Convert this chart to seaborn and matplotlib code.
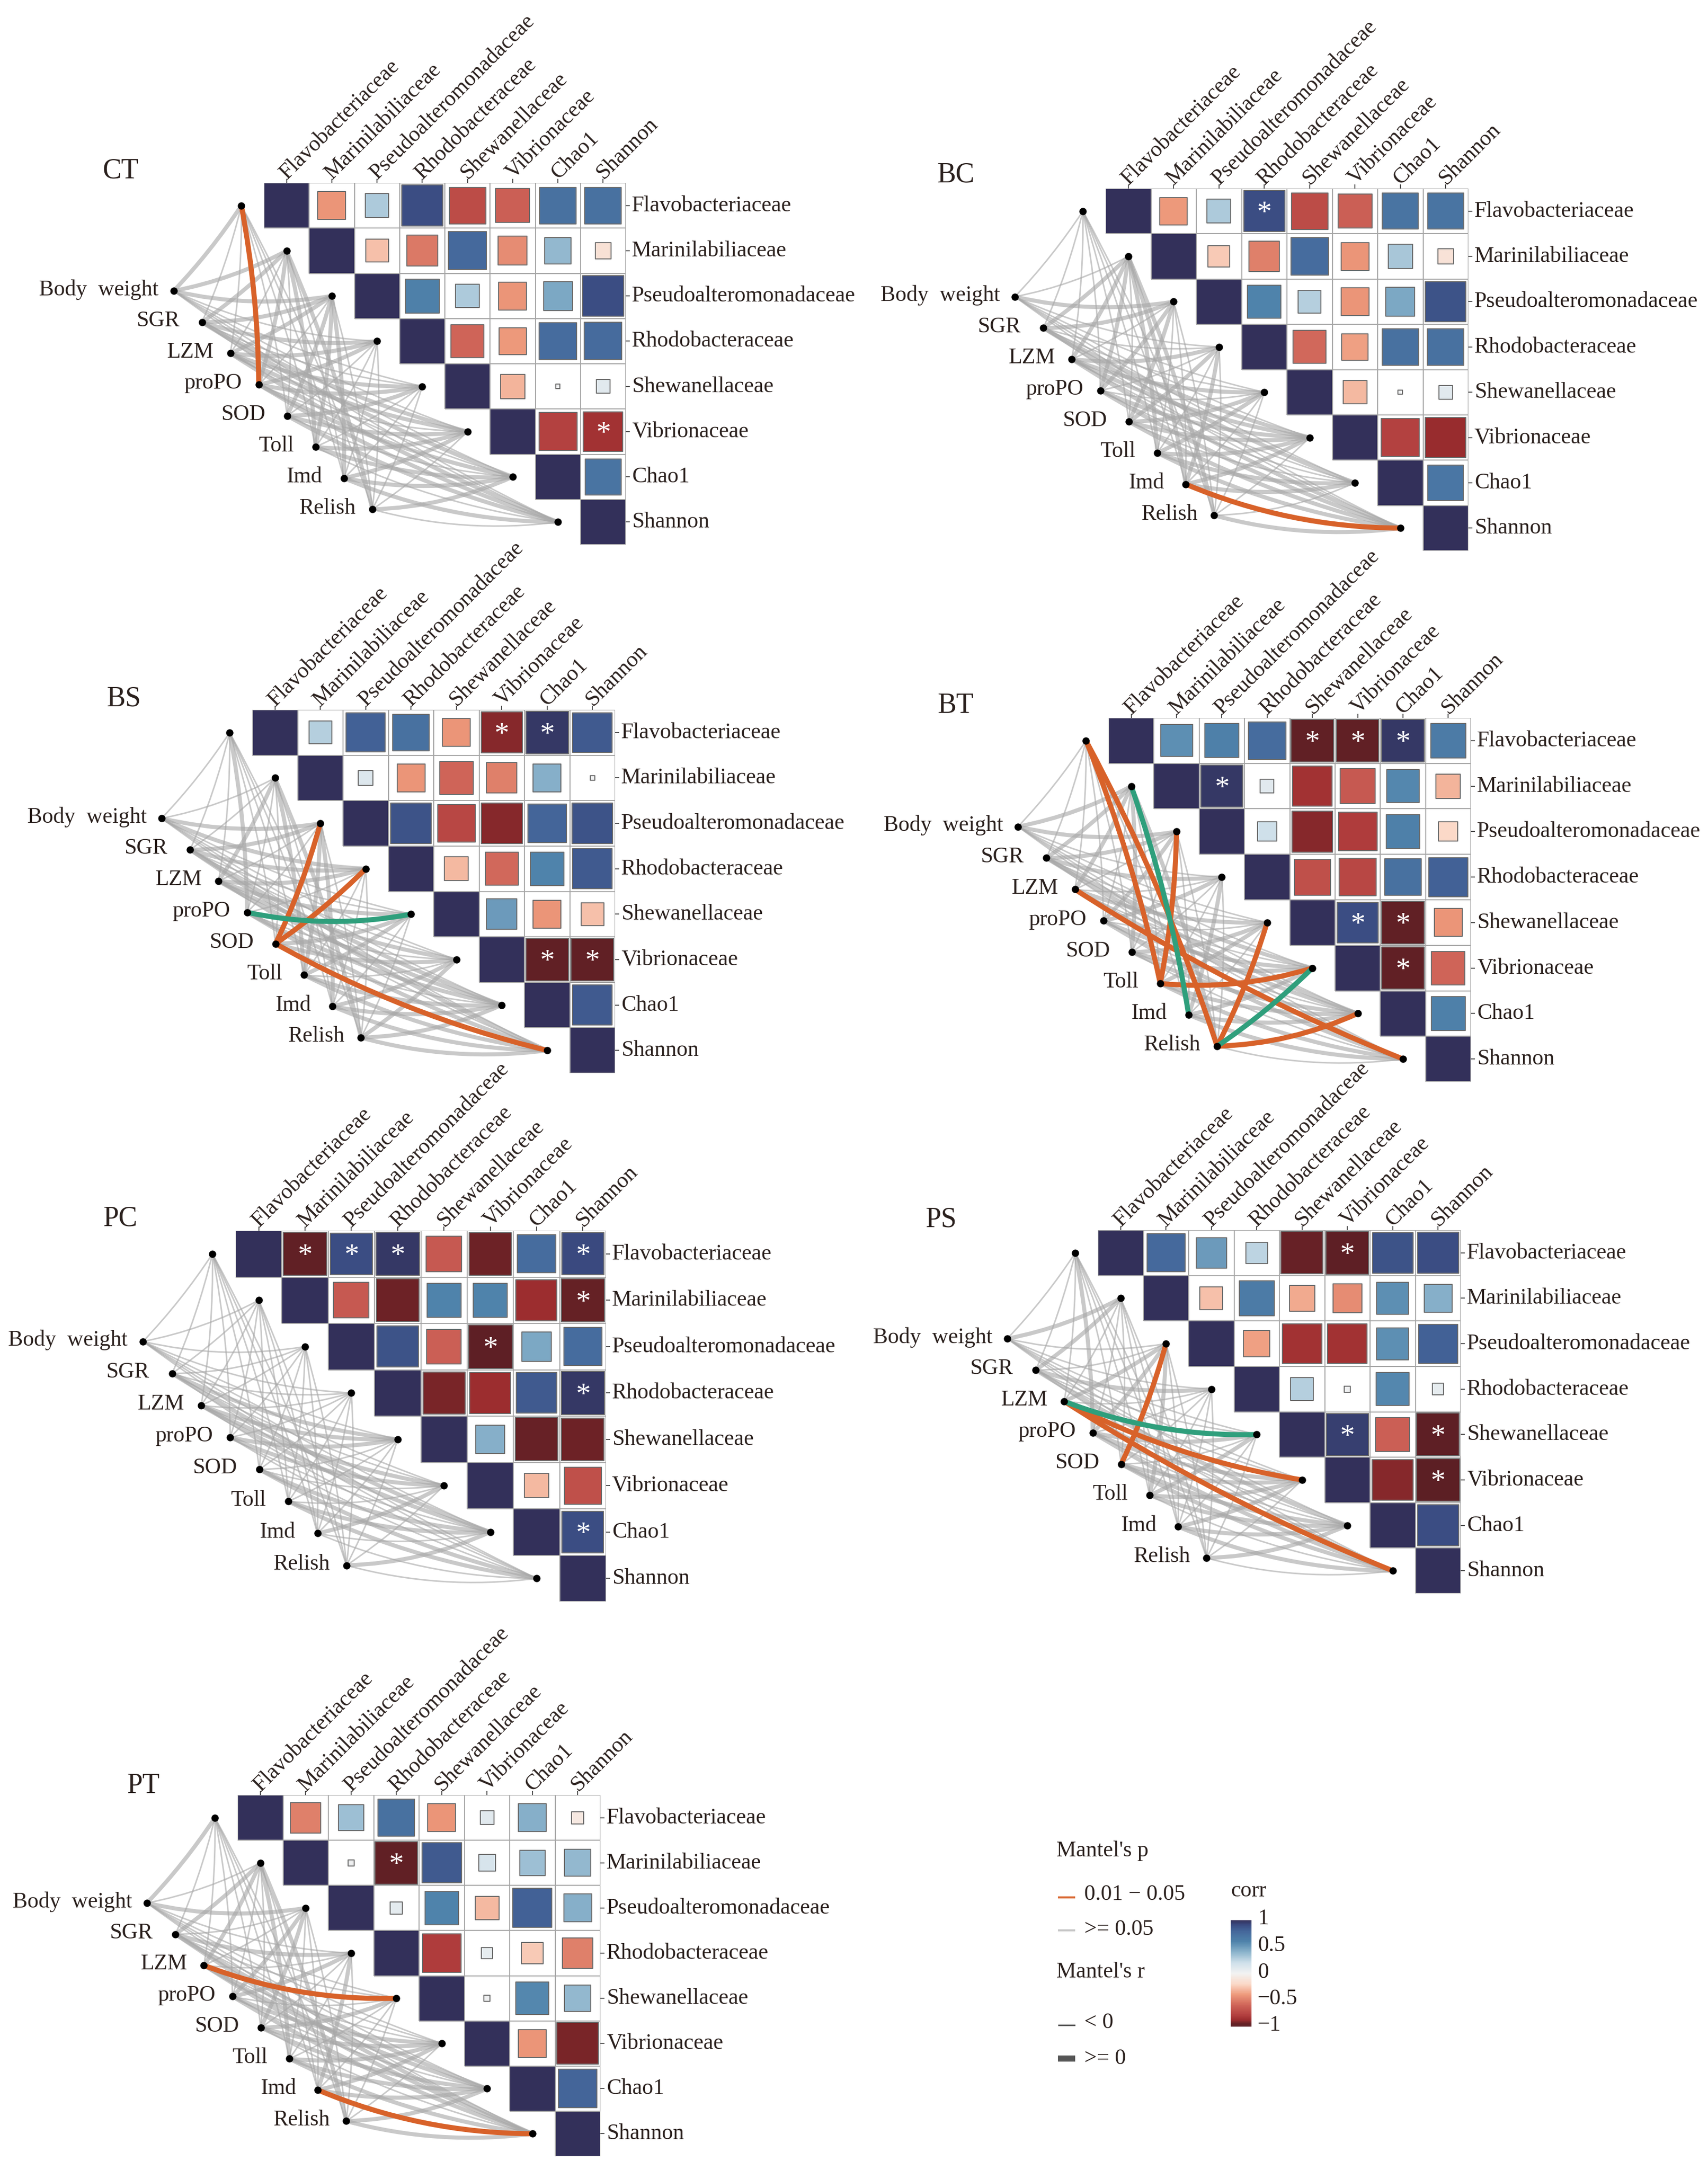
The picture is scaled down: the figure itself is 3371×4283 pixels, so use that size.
import matplotlib
matplotlib.use("Agg")
import matplotlib.pyplot as plt
import seaborn as sns
import numpy as np
from matplotlib.colors import LinearSegmentedColormap, ListedColormap, Normalize
from matplotlib.cm import ScalarMappable
from matplotlib.lines import Line2D
from matplotlib.patches import PathPatch
from matplotlib.path import Path
from matplotlib.transforms import ScaledTranslation

taxa = ["Flavobacteriaceae", "Marinilabiliaceae", "Pseudoalteromonadaceae", "Rhodobacteraceae",
        "Shewanellaceae", "Vibrionaceae", "Chao1", "Shannon"]
env_labels = ["Body  weight", "SGR", "LZM", "proPO", "SOD", "Toll", "Imd", "Relish"]
F, M, Ps, R, Sh, V, C, Sn = range(8)
BW, SGR, LZM, PRO, SOD, TOLL, IMD, REL = range(8)

# upper triangle of the correlation matrix, read row by row
ct_corr = [[-.42, .30, .90, -.72, -.62, .72, .72],
           [-.28, -.52, .78, -.45, .38, -.14],
           [.62, .30, -.42, .45, .90],
           [-.60, -.40, .75, .76],
           [-.32, .01, .10],
           [-.78, -.85],
           [.70]]
bc_corr = [[-.40, .30, .90, -.72, -.62, .70, .70],
           [-.25, -.50, .75, -.42, .32, -.13],
           [.60, .28, -.42, .45, .88],
           [-.58, -.38, .72, .72],
           [-.30, .01, .10],
           [-.78, -.88],
           [.68]]
bs_corr = [[.28, .82, .72, -.42, -.90, .97, .85],
           [.12, -.42, -.60, -.50, .42, .01],
           [.88, -.75, -.90, .80, .88],
           [-.30, -.58, .60, .85],
           [.50, -.42, -.28],
           [-.97, -.97],
           [.85]]
bt_corr = [[.55, .62, .75, -.97, -.97, .97, .65],
           [.97, .10, -.85, -.65, .58, -.32],
           [.20, -.90, -.80, .62, -.20],
           [-.70, -.75, .72, .82],
           [.90, -.97, -.42],
           [-.97, -.60],
           [.62]]
pc_corr = [[-.97, .90, .97, -.65, -.93, .75, .92],
           [-.65, -.93, .60, .60, -.87, -.96],
           [.88, -.62, -.98, .45, .75],
           [-.92, -.87, .85, .97],
           [.42, -.95, -.93],
           [-.30, -.70],
           [.90]]
ps_corr = [[.78, .50, .25, -.95, -.98, .88, .90],
           [-.28, .65, -.35, -.45, .55, .42],
           [-.38, -.85, -.85, .55, .82],
           [.28, .02, .58, .07],
           [.95, -.62, -.98],
           [-.90, -.99],
           [.90]]
pt_corr = [[-.50, .35, .72, -.42, .10, .42, -.08],
           [.02, -.97, .85, .15, .35, .38],
           [.08, .60, -.30, .82, .42],
           [-.80, .07, -.25, -.50],
           [.02, .58, .38],
           [-.42, -.92],
           [.80]]

# significant cells (row, column)
ct_stars = [(V, Sn)]
bc_stars = [(F, R)]
bs_stars = [(F, V), (F, C), (V, C), (V, Sn)]
bt_stars = [(F, Sh), (F, V), (F, C), (M, Ps), (Sh, V), (Sh, C), (V, C)]
pc_stars = [(F, M), (F, Ps), (F, R), (F, Sn), (M, Sn), (Ps, V), (R, Sn), (C, Sn)]
ps_stars = [(F, V), (Sh, V), (Sh, Sn), (V, Sn)]
pt_stars = [(M, R)]

# Mantel's r >= 0 (thick line), one string per env variable, one digit per taxon
ct_thick = ["11100000", "01110110", "00111101", "01011011", "00101101", "01100110", "00100111", "01000010"]
bc_thick = ["00100000", "01100110", "01011101", "01100101", "00111101", "01001111", "01010110", "01000001"]
bs_thick = ["00110000", "00110011", "01011110", "10001011", "00101101", "01101011", "00100111", "01000111"]
bt_thick = ["01100000", "01110110", "01001011", "00110101", "01001110", "00101111", "00010111", "01000010"]
pc_thick = ["00000000", "00001010", "00001110", "00001100", "00000011", "00000011", "00000100", "00000010"]
ps_thick = ["01000000", "01010010", "00101100", "10101101", "00000111", "00101110", "00000111", "00000010"]
pt_thick = ["10100000", "01010011", "01001011", "00110101", "00101110", "01000111", "00010110", "01000011"]

# links with Mantel's p below 0.05 (env, taxon)
ct_orange = [(PRO, F)]
bc_orange = [(IMD, Sn)]
bs_orange = [(SOD, Ps), (SOD, R), (SOD, Sn)]
bt_orange = [(LZM, Sn), (TOLL, F), (REL, F), (TOLL, Ps), (TOLL, V), (REL, Sh), (REL, C)]
pc_orange = []
ps_orange = [(LZM, V), (LZM, Sn), (SOD, Ps)]
pt_orange = [(LZM, Sh), (IMD, Sn)]
ct_green = []
bc_green = []
bs_green = [(PRO, Sh)]
bt_green = [(IMD, M), (REL, V)]
pc_green = []
ps_green = [(LZM, Sh)]
pt_green = []

# name, heatmap box in pixels (left, top, right, bottom), title centre in pixels
panels = [
    ("CT", (521, 361, 1235, 1075), (238, 338), ct_corr, ct_stars, ct_thick, ct_orange, ct_green),
    ("BC", (2182, 372, 2898, 1087), (1886, 346), bc_corr, bc_stars, bc_thick, bc_orange, bc_green),
    ("BS", (498, 1401, 1214, 2118), (244, 1379), bs_corr, bs_stars, bs_thick, bs_orange, bs_green),
    ("BT", (2188, 1417, 2903, 2135), (1886, 1393), bt_corr, bt_stars, bt_thick, bt_orange, bt_green),
    ("PC", (465, 2429, 1196, 3161), (237, 2405), pc_corr, pc_stars, pc_thick, pc_orange, pc_green),
    ("PS", (2167, 2428, 2883, 3145), (1857, 2408), ps_corr, ps_stars, ps_thick, ps_orange, ps_green),
    ("PT", (469, 3543, 1185, 4256), (283, 3525), pt_corr, pt_stars, pt_thick, pt_orange, pt_green),
]

W, H = 3371, 4283
DPI = 100
TXT = "#2a201d"
GREY = "#a8a8a8"
ORANGE = "#d8622a"
GREEN = "#2f9f7c"
NAVY = "#33305a"
FS = 31.5

sns.set_theme(style="white")
plt.rcParams["font.family"] = ["Liberation Serif", "DejaVu Serif"]

corr_cmap = LinearSegmentedColormap.from_list(
    "corr", [(0, "#5a1e24"), (.03, "#6b2226"), (.06, "#9a2c2e"), (.1, "#b03d3d"), (.2, "#cf6458"),
             (.3, "#ee9a7c"), (.4, "#fbd9c8"), (.5, "#f2f2f2"), (.6, "#cfe0ea"), (.7, "#8cb4cc"),
             (.8, "#4f83ab"), (.9, "#44669a"), (.96, "#3a4a80"), (1, NAVY)])
norm = Normalize(-1, 1)


def px(v):
    return v * 72 / DPI


def full_matrix(upper):
    mat = np.zeros((8, 8))
    for i, row in enumerate(upper):
        mat[i, i + 1:] = row
    return mat


def curve(ax, p0, p1, color, lw, alpha=1.0):
    (x0, y0), (x1, y1) = p0, p1
    # flat links bend more than steep ones
    angle = np.degrees(np.arctan2(abs(y1 - y0), abs(x1 - x0)))
    rad = .045 + .055 * np.clip((28 - angle) / 15, 0, 1)
    ctrl = ((x0 + x1) / 2 - rad * (y1 - y0), (y0 + y1) / 2 + rad * (x1 - x0))
    path = Path([p0, ctrl, p1], [Path.MOVETO, Path.CURVE3, Path.CURVE3])
    ax.add_patch(PathPatch(path, fc="none", ec=color, lw=px(lw), alpha=alpha, clip_on=False,
                           capstyle="round", zorder=3))


fig = plt.figure(figsize=(W / DPI, H / DPI), dpi=DPI)
overlay = fig.add_axes([0, 0, 1, 1], zorder=0)
overlay.set_xlim(0, W)
overlay.set_ylim(H, 0)
overlay.axis("off")

for name, box, title_xy, corr, stars, thick, orange, green in panels:
    left, top, right, bottom = box
    ax = fig.add_axes([left / W, 1 - bottom / H, (right - left) / W, (bottom - top) / H], zorder=1)
    ax.patch.set_visible(False)
    cell = (right - left) / 8

    mat = full_matrix(corr)
    mask = np.tril(np.ones((8, 8), dtype=bool), -1)
    sns.heatmap(np.eye(8), mask=mask, cmap=ListedColormap(["white", NAVY]), vmin=0, vmax=1, cbar=False,
                xticklabels=taxa, yticklabels=taxa, ax=ax)
    # grid only over the upper triangle
    for i in range(9):
        ax.hlines(i, max(i - 1, 0), 8, color="#a6a6a6", lw=px(2), zorder=1.5)
        ax.vlines(i, 0, min(i + 1, 8), color="#a6a6a6", lw=px(2), zorder=1.5)

    rows, cols = np.triu_indices(8, 1)
    vals = mat[rows, cols]
    # square area follows |r|
    ax.scatter(cols + .5, rows + .5, c=vals, cmap=corr_cmap, norm=norm, marker="s",
               s=np.abs(vals) * (px(cell) * .95) ** 2, edgecolors="#6e6e6e", linewidths=px(2), zorder=2)
    for r, c in stars:
        ax.text(c + .5, r + .56, "*", color="white", fontsize=42, ha="center", va="center", zorder=4)

    ax.xaxis.tick_top()
    ax.yaxis.tick_right()
    ax.tick_params(axis="both", length=px(8), width=px(2), color="#555555", pad=px(4), labelsize=FS, labelcolor=TXT)
    ax.tick_params(axis="x", pad=px(6))
    shift = ScaledTranslation(-7 / DPI, 0, fig.dpi_scale_trans)
    for lab in ax.get_xticklabels():
        lab.set(rotation=45, ha="left", va="center", rotation_mode="anchor")
        lab.set_transform(lab.get_transform() + shift)
    for lab in ax.get_yticklabels():
        lab.set(rotation=0, va="center")

    # network: env nodes on a diagonal, taxon nodes one cell left of the diagonal
    env_xy = [(-2.0 + .628 * i, 2.39 + .69 * i) for i in range(8)]
    tax_xy = [(i - .5, i + .5) for i in range(8)]
    special = set(orange) | set(green)
    for e in range(8):
        for t in range(8):
            if (e, t) not in special:
                curve(ax, env_xy[e], tax_xy[t], GREY, 8 if thick[e][t] == "1" else 3, alpha=.62)
    for e, t in orange:
        curve(ax, env_xy[e], tax_xy[t], ORANGE, 10)
    for e, t in green:
        curve(ax, env_xy[e], tax_xy[t], GREEN, 10)
    nodes = np.array(env_xy + tax_xy)
    ax.scatter(nodes[:, 0], nodes[:, 1], s=px(13) ** 2, color="black", clip_on=False, zorder=5)
    pads = [.33, .5, .36, .37, .48, .48, .48, .36]
    for i, (x, y) in enumerate(env_xy):
        ax.text(x - pads[i], y - .03, env_labels[i], fontsize=FS, color=TXT, ha="right", va="center")

    overlay.text(title_xy[0], title_xy[1], name, fontsize=40, color=TXT, ha="center", va="center")

# legends
overlay.text(2085, 3653, "Mantel's p", fontsize=FS, color=TXT, va="center")
overlay.text(2140, 3739, "0.01 \u2212 0.05", fontsize=FS, color=TXT, va="center")
overlay.text(2140, 3808, ">= 0.05", fontsize=FS, color=TXT, va="center")
overlay.text(2085, 3892, "Mantel's r", fontsize=FS, color=TXT, va="center")
overlay.text(2140, 3992, "< 0", fontsize=FS, color=TXT, va="center")
overlay.text(2140, 4063, ">= 0", fontsize=FS, color=TXT, va="center")
overlay.text(2429, 3732, "corr", fontsize=FS, color=TXT, va="center")
for y, col, lw in [(3745, ORANGE, 4), (3810, "#c6c6c6", 4), (3997, "#555555", 3), (4063, "#555555", 12)]:
    overlay.add_line(Line2D([2088, 2122], [y, y], color=col, lw=px(lw), solid_capstyle="butt"))

cax = fig.add_axes([2429 / W, 1 - 4000 / H, 41 / W, 210 / H], zorder=1)
cb = fig.colorbar(ScalarMappable(norm=norm, cmap=corr_cmap), cax=cax, ticks=[-1, -.5, 0, .5, 1])
cb.outline.set_visible(False)
cb.ax.set_yticklabels(["\u22121", "\u22120.5", "0", "0.5", "1"], fontsize=FS, color=TXT)
cb.ax.tick_params(length=px(7), width=px(1.5), color="white", direction="in", pad=px(12))
up = ScaledTranslation(0, 7 / DPI, fig.dpi_scale_trans)
for lab in cb.ax.get_yticklabels():
    lab.set_transform(lab.get_transform() + up)

fig.savefig("out.png", dpi=DPI, facecolor="white")
